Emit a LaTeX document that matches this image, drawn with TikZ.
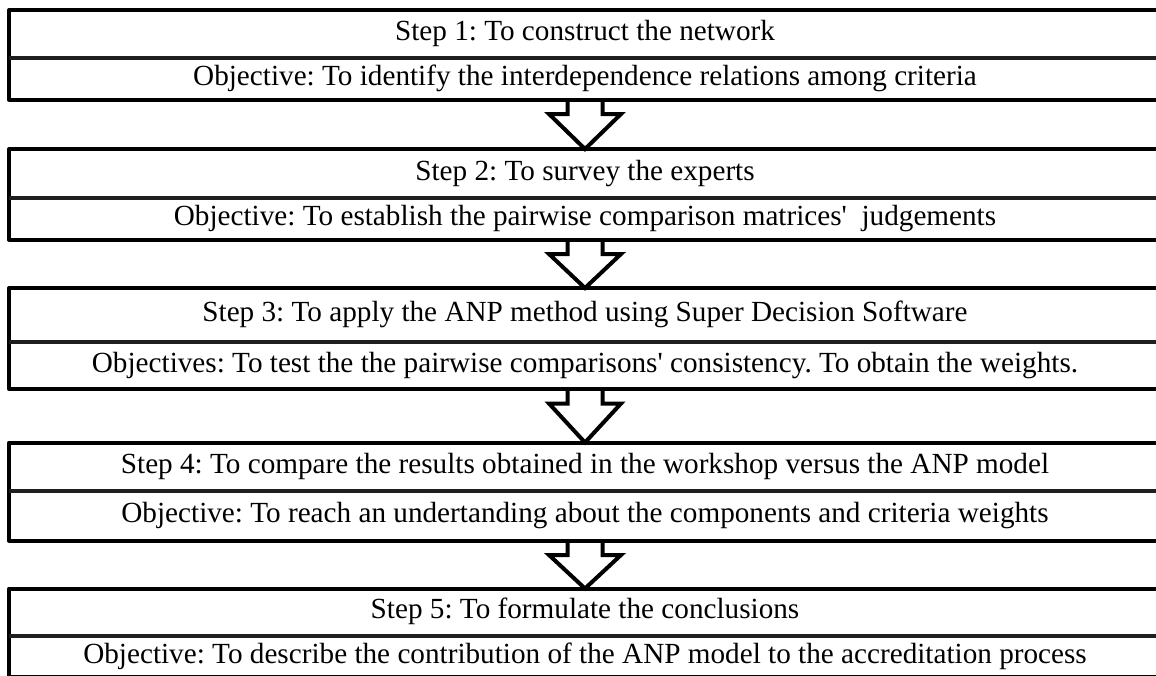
\documentclass[tikz,border=0pt]{standalone}
\usepackage{fontspec}
\setmainfont{Liberation Serif}[Ligatures=TeXOff]
\usetikzlibrary{calc}
\frenchspacing
\begin{document}
\begin{tikzpicture}[x=1pt,y=-1pt,
  half/.style={minimum width=1152pt, inner sep=0pt, outer sep=0pt,
    font=\fontsize{29.2}{35}\selectfont\frenchspacing, text height=20pt, text depth=6.4pt},
  frame/.style={line width=4pt, line join=round, line cap=round},
  midline/.style={line width=4pt, draw=black!88},
  blockarrow/.style={line width=4pt, line join=miter}]
\useasboundingbox (0,0) rectangle (1156,675);
\clip (0,0) rectangle (1156,675);

% Step 1
\node[half, minimum height=48pt] (s1) at (585,34) {Step 1: To construct the network};
\node[half, minimum height=41.5pt, anchor=north] (o1) at (s1.south) {Objective: To identify the interdependence relations among criteria};
% Step 2
\node[half, minimum height=49pt] (s2) at (585,173.5) {Step 2: To survey the experts};
\node[half, minimum height=41.5pt, anchor=north] (o2) at (s2.south) {Objective: To establish the pairwise comparison matrices'~ judgements};
% Step 3
\node[half, minimum height=53.5pt] (s3) at (585,314.75) {Step 3: To apply the ANP method using Super Decision Software};
\node[half, minimum height=47.5pt, anchor=north] (o3) at (s3.south) {Objectives: To test the the pairwise comparisons' consistency. To obtain the weights.};
% Step 4
\node[half, minimum height=48pt] (s4) at (585,466.5) {Step 4: To compare the results obtained in the workshop versus the ANP model};
\node[half, minimum height=50pt, anchor=north] (o4) at (s4.south) {Objective: To reach an undertanding about the components and criteria weights};
% Step 5
\node[half, minimum height=47pt] (s5) at (585,612) {Step 5: To formulate the conclusions};
\node[half, minimum height=41.5pt, anchor=north] (o5) at (s5.south) {Objective: To describe the contribution of the ANP model to the accreditation process};

% arrows
\foreach \a/\b in {o1/s2, o2/s3, o3/s4, o4/s5}{
  \draw[blockarrow] ($(\a.south)+(-17.5,0)$) -- ($(\a.south)+(-17.5,14.5)$)
    -- ($(\a.south)+(-36,14.5)$) -- (\b.north)
    -- ($(\a.south)+(36,14.5)$) -- ($(\a.south)+(17.5,14.5)$)
    -- ($(\a.south)+(17.5,0)$);
}

% frames
\foreach \s/\o in {s1/o1, s2/o2, s3/o3, s4/o4, s5/o5}{
  \draw[frame] (\s.north east) -- (\s.north west) -- (\o.south west) -- (\o.south east);
  \draw[midline] (\s.south west) -- (\s.south east);
}
\end{tikzpicture}
\end{document}
